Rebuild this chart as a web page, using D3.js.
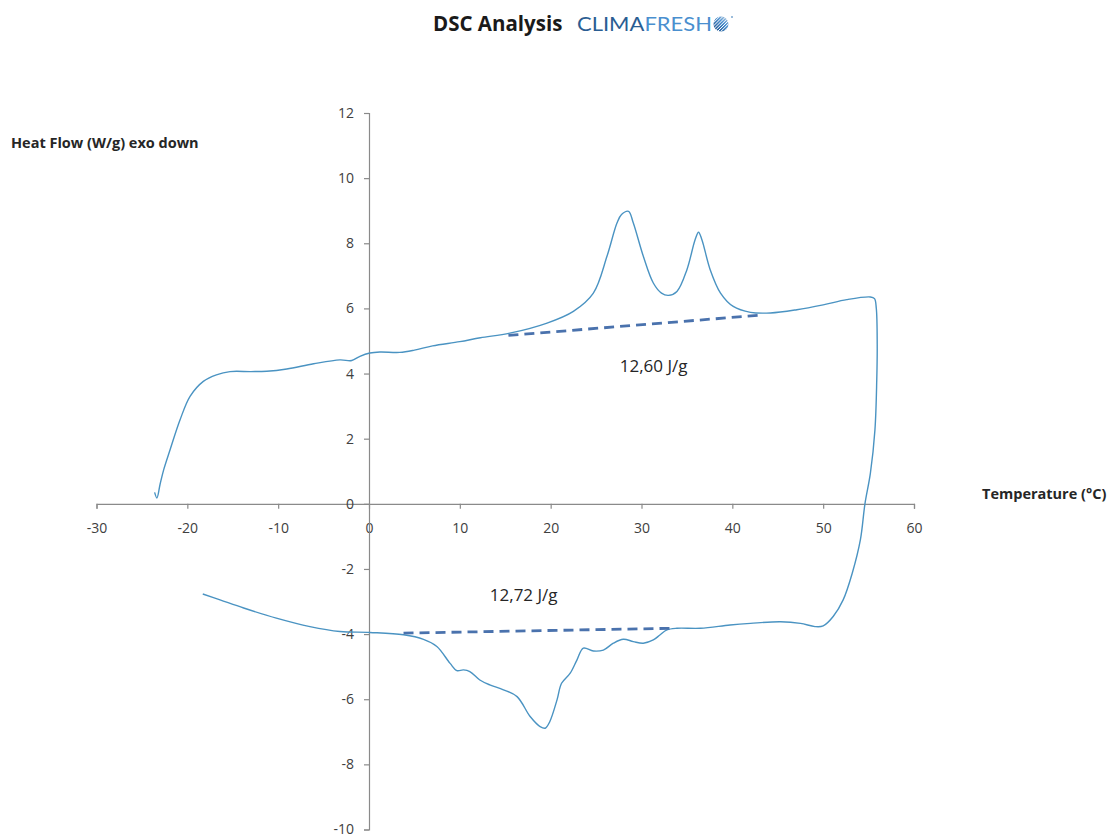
<!DOCTYPE html>
<html>
<head>
<meta charset="utf-8">
<script src="https://cdn.jsdelivr.net/npm/d3@7/dist/d3.min.js"></script>
<style>
  body { margin: 0; background: #fff; }
  svg { display: block; }
  text { font-family: "Open Sans", "Noto Sans", sans-serif; }
</style>
</head>
<body>
<svg id="chart" width="1114" height="837"></svg>
<script>
// ---- Data ----
const xTicks = [-30, -20, -10, 0, 10, 20, 30, 40, 50, 60];
const yTicks = [-10, -8, -6, -4, -2, 0, 2, 4, 6, 8, 10, 12];

// Heating segment (temperature °C, heat flow W/g)
const tempHeat = [-23.6, -23.35, -23.0, -22.6, -21.9, -20.8, -19.7, -18.24, -16.8, -15.3, -13.0, -11.26, -9.05, -6.1, -3.2, -1.9, -1.0, 0.1, 1.2, 3.4, 5.0, 7.0, 10.0, 12.26, 15.5, 19.6, 22.5, 24.7, 26.2, 27.3, 27.8, 28.57, 29.1, 30.2, 31.3, 32.2, 32.97, 33.9, 35.0, 35.9, 36.28, 36.65, 37.56, 38.7, 40.1, 42.0, 44.2, 47.1, 50.0, 52.6, 55.2, 55.65];
const flowHeat = [0.35, 0.18, 0.6, 1.05, 1.66, 2.58, 3.3, 3.76, 3.96, 4.06, 4.06, 4.07, 4.14, 4.3, 4.42, 4.40, 4.53, 4.63, 4.66, 4.65, 4.72, 4.85, 4.98, 5.1, 5.24, 5.55, 5.91, 6.47, 7.6, 8.62, 8.88, 8.98, 8.62, 7.6, 6.78, 6.47, 6.4, 6.52, 7.19, 8.11, 8.34, 8.11, 7.19, 6.47, 6.06, 5.88, 5.86, 5.96, 6.11, 6.27, 6.35, 6.3];

// Cooling segment
const tempCool = [55.65, 55.85, 55.95, 55.9, 55.7, 55.2, 54.6, 54.1, 53.2, 52.2, 51.1, 50.0, 49.1, 47.5, 45.3, 42.0, 39.75, 36.5, 33.9, 32.8, 32.06, 31.3, 30.2, 29.1, 28.0, 26.9, 25.8, 24.7, 23.6, 22.9, 22.15, 21.2, 20.7, 19.9, 19.4, 18.84, 17.74, 16.3, 14.8, 13.3, 12.2, 11.1, 10.4, 9.67, 8.93, 7.47, 6.0, 3.8, 0.1, -3.2, -6.5, -10.2, -13.8, -16.4, -18.3];
const flowCool = [6.3, 6.0, 4.9, 3.8, 2.27, 0.94, 0.0, -1.1, -2.13, -2.95, -3.46, -3.75, -3.77, -3.67, -3.62, -3.67, -3.72, -3.82, -3.82, -3.87, -4.02, -4.18, -4.28, -4.23, -4.16, -4.28, -4.49, -4.52, -4.43, -4.79, -5.2, -5.51, -6.02, -6.69, -6.89, -6.84, -6.53, -5.92, -5.71, -5.56, -5.41, -5.15, -5.1, -5.12, -4.9, -4.38, -4.16, -4.02, -3.95, -3.92, -3.77, -3.51, -3.2, -2.95, -2.77];

// Integration baselines
const baseHeatX = [15.35, 43.4];
const baseHeatY = [5.17, 5.8];
const baseCoolX = [3.8, 33.7];
const baseCoolY = [-3.97, -3.82];

// Enthalpy labels
const enthalpyLabels = ["12,60 J/g", "12,72 J/g"];
const enthalpyX = [27.6, 13.3];
const enthalpyY = [4.2, -2.85];

// ---- Chart ----
const svg = d3.select("#chart");
const x = d3.scaleLinear().domain([-30, 60]).range([96.5, 914]);
const y = d3.scaleLinear().domain([-10, 12]).range([829.5, 113]);

const axisColor = "#8a8a8a";
const textColor = "#404040";
const fmt = d => String(d);

// X axis at y = 0
const gx = svg.append("g")
  .attr("transform", `translate(0,${y(0)})`)
  .call(d3.axisBottom(x).tickValues(xTicks).tickSize(5).tickPadding(14).tickFormat(fmt));
// Y axis at x = 0
const gy = svg.append("g")
  .attr("transform", `translate(${x(0)},0)`)
  .call(d3.axisLeft(y).tickValues(yTicks).tickSize(5).tickPadding(10).tickFormat(fmt));

[gx, gy].forEach(g => {
  g.select(".domain").attr("stroke", axisColor).attr("stroke-width", 1.2);
  g.selectAll(".tick line").attr("stroke", axisColor).attr("stroke-width", 1.2);
  g.selectAll(".tick text").attr("fill", textColor)
    .style("font-family", "'Open Sans', sans-serif").style("font-size", "14px");
});

// Curve
const line = d3.line()
  .x(d => x(d[0])).y(d => y(d[1]))
  .curve(d3.curveCatmullRom.alpha(0.5));

const heatPts = tempHeat.map((t, i) => [t, flowHeat[i]]);
const coolPts = tempCool.map((t, i) => [t, flowCool[i]]);
const allPts = heatPts.concat(coolPts.slice(1));

svg.append("path")
  .datum(allPts)
  .attr("d", line)
  .attr("fill", "none")
  .attr("stroke", "#4a93c2")
  .attr("stroke-width", 1.4);

// Baselines
const straight = d3.line().x(d => x(d[0])).y(d => y(d[1]));
[[baseHeatX, baseHeatY], [baseCoolX, baseCoolY]].forEach(([bx, by]) => {
  svg.append("path")
    .datum(bx.map((v, i) => [v, by[i]]))
    .attr("d", straight)
    .attr("fill", "none")
    .attr("stroke", "#4a72ad")
    .attr("stroke-width", 2.8)
    .attr("stroke-dasharray", "10,6");
});

// Enthalpy labels
enthalpyLabels.forEach((lab, i) => {
  svg.append("text")
    .attr("x", x(enthalpyX[i])).attr("y", y(enthalpyY[i]))
    .attr("dominant-baseline", "middle")
    .attr("fill", "#262626")
    .style("font-size", "17px")
    .text(lab);
});

// Axis titles
svg.append("text")
  .attr("x", 11).attr("y", 148)
  .attr("fill", "#262626")
  .style("font-size", "14.5px").style("font-weight", "bold")
  .text("Heat Flow (W/g) exo down");

svg.append("text")
  .attr("x", 982).attr("y", 499)
  .attr("fill", "#262626")
  .style("font-size", "14.5px").style("font-weight", "bold")
  .text("Temperature (°C)");

// Title
svg.append("text")
  .attr("x", 433).attr("y", 31)
  .attr("fill", "#1a1a1a")
  .style("font-size", "20.5px").style("font-weight", "bold")
  .text("DSC Analysis");

const brand = svg.append("text")
  .attr("x", 577).attr("y", 30.5)
  .attr("textLength", 135).attr("lengthAdjust", "spacingAndGlyphs")
  .style("font-family", "Lato, 'Open Sans', sans-serif")
  .style("font-size", "20px").style("font-weight", "400");
brand.append("tspan").attr("fill", "#2a5d92").text("CLIMA");
brand.append("tspan").attr("fill", "#4a8fcf").text("FRESH");

// Logo globe
const defs = svg.append("defs");
const grad = defs.append("linearGradient").attr("id", "globe")
  .attr("x1", "0").attr("y1", "1").attr("x2", "1").attr("y2", "0");
grad.append("stop").attr("offset", "0%").attr("stop-color", "#1d4f86");
grad.append("stop").attr("offset", "60%").attr("stop-color", "#4a8fcf");
grad.append("stop").attr("offset", "100%").attr("stop-color", "#c9d6e2");
defs.append("clipPath").attr("id", "globeClip")
  .append("circle").attr("cx", 721).attr("cy", 24).attr("r", 7.5);
const logo = svg.append("g");
logo.append("circle").attr("cx", 721).attr("cy", 24).attr("r", 7.5).attr("fill", "url(#globe)");
const stripes = logo.append("g").attr("clip-path", "url(#globeClip)");
d3.range(-12, 14, 3.2).forEach(o => {
  stripes.append("line")
    .attr("x1", 721 + o - 10).attr("y1", 34).attr("x2", 721 + o + 10).attr("y2", 14)
    .attr("stroke", "#fff").attr("stroke-width", 1);
});
svg.append("circle").attr("cx", 732).attr("cy", 17).attr("r", 1).attr("fill", "#7aa6cf");
</script>
</body>
</html>
